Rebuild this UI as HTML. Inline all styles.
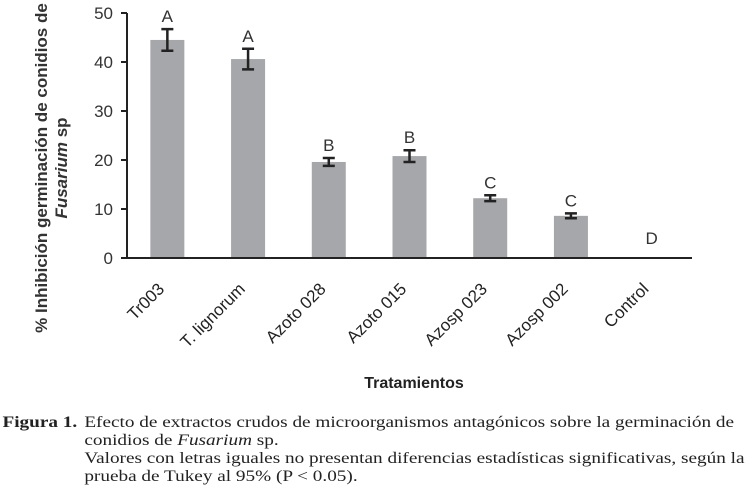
<!DOCTYPE html>
<html><head><meta charset="utf-8"><style>
body{margin:0;background:#fff;width:755px;height:494px;overflow:hidden;font-family:"Liberation Sans",sans-serif}
.cap{position:absolute;left:0;top:414px;font-family:"Liberation Serif",serif;font-size:15.5px;line-height:18px;color:#222;transform:scaleX(1.24);transform-origin:0 0;width:600px}
</style></head><body>
<svg id="chart" width="755" height="400" style="position:absolute;left:0;top:0" font-family="Liberation Sans, sans-serif"></svg>
<div class="cap">
<div style="position:absolute;left:2px;top:0;white-space:nowrap"><b>Figura 1.</b></div>
<div style="position:absolute;left:68px;top:0;white-space:nowrap">Efecto de extractos crudos de microorganismos antagónicos sobre la germinación de<br>conidios de <i>Fusarium</i> sp.<br>Valores con letras iguales no presentan diferencias estadísticas significativas, según la<br>prueba de Tukey al 95% (P &lt; 0.05).</div>
</div>
<script>
const categories=["Tr003","T. lignorum","Azoto 028","Azoto 015","Azosp 023","Azosp 002","Control"];
const values=[44.5,40.6,19.6,20.8,12.2,8.6,0];
const errors=[2.2,2.1,0.8,1.2,0.6,0.5,0];
const letters=["A","A","B","B","C","C","D"];
const yTicks=[0,10,20,30,40,50];
const NS="http://www.w3.org/2000/svg";
const svg=document.getElementById('chart');
const x0=127,x1=692,y0=258,yTop=13;
const y=v=>y0-(v/50)*(y0-yTop);
const step=(x1-x0)/categories.length;
const cx=i=>x0+step*(i+0.5);
function mk(t,a){const e=document.createElementNS(NS,t);for(const k in a)e.setAttribute(k,a[k]);svg.appendChild(e);return e;}
categories.forEach((c,i)=>{
 const bw=34;
 if(values[i]>0){
 const r=mk('rect',{x:cx(i)-bw/2,y:y(values[i]),width:bw,height:y0-y(values[i]),fill:'#a6a7aa'});
 
 
 const eh=y(values[i]-errors[i]),el=y(values[i]+errors[i]);
 const g=mk('path',{d:`M${cx(i)} ${el}V${eh}M${cx(i)-6} ${el}H${cx(i)+6}M${cx(i)-6} ${eh}H${cx(i)+6}`,stroke:'#222','stroke-width':2.5,fill:'none'});
 
 
 }
 const top=values[i]>0?y(values[i]+errors[i])-7:y0-14;
 const l=mk('text',{x:cx(i),y:top,'text-anchor':'middle','font-size':17,fill:'#333'});l.textContent=letters[i];
 
 
 const ax=cx(i)-2,ay=y0+32;
 const t=mk('text',{x:ax,y:ay,'text-anchor':'end','font-size':17,fill:'#222',transform:`rotate(-45 ${ax} ${ay})`});t.textContent=c;
 
 
});
yTicks.forEach(v=>{
 mk('line',{x1:x0-6,x2:x0,y1:y(v),y2:y(v),stroke:'#222','stroke-width':2});
 const t=mk('text',{x:x0-14,y:y(v)+6,'text-anchor':'end','font-size':17,fill:'#333'});t.textContent=v;
 
 
});
mk('line',{x1:x0,x2:x0,y1:yTop,y2:y0+1,stroke:'#222','stroke-width':2});
mk('line',{x1:x0-6,x2:x1,y1:y0,y2:y0,stroke:'#222','stroke-width':2});
const yt=mk('text',{transform:'translate(47 168) rotate(-90)','text-anchor':'middle','font-size':17,'font-weight':'bold',fill:'#333'});


yt.innerHTML='<tspan x="0" y="0">% Inhibición germinación de conidios de</tspan><tspan x="0" y="20" font-style="italic">Fusarium</tspan><tspan> sp</tspan>';
const xt=mk('text',{x:414,y:388,'text-anchor':'middle','font-size':16,'font-weight':'bold',fill:'#222'});xt.textContent='Tratamientos';


</script>
</body></html>
